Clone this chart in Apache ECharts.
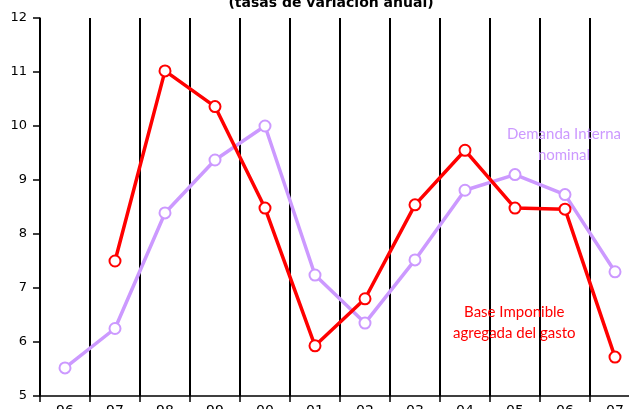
<!DOCTYPE html>
<html>
<head>
<meta charset="utf-8">
<script src="https://cdn.jsdelivr.net/npm/echarts@6/dist/echarts.min.js"></script>
<style>
  html, body { margin: 0; padding: 0; background: #fff; }
  #chart { width: 629px; height: 409px; }
</style>
</head>
<body>
<div id="chart"></div>
<script>
const years = ['96', '97', '98', '99', '00', '01', '02', '03', '04', '05', '06', '07']
// Demanda Interna nominal
const demanda = [5.52, 6.25, 8.39, 9.37, 10.0, 7.24, 6.35, 7.52, 8.81, 9.10, 8.73, 7.30]
// Base Imponible agregada del gasto
const baseImponible = [null, 7.50, 11.02, 10.36, 8.48, 5.93, 6.80, 8.54, 9.55, 8.48, 8.46, 5.72]

const chart = echarts.init(document.getElementById('chart'))

const lineSeries = (name, data, color) => ({
  name: name,
  type: 'line',
  data: data,
  animation: false,
  symbol: 'circle',
  symbolSize: 11,
  lineStyle: { color: color, width: 3.5 },
  itemStyle: { color: '#fff', borderColor: color, borderWidth: 2 },
  emphasis: { disabled: true }
})

chart.setOption({
  backgroundColor: '#fff',
  title: {
    text: '(tasas de variación anual)',
    left: 326,
    textAlign: 'center',
    top: -9,
    textStyle: { fontFamily: 'DejaVu Sans', fontWeight: 'bold', fontSize: 14, color: '#000' }
  },
  // sin ajuste automatico: la ultima categoria queda cortada como en el original
  grid: { left: 40, top: 18, width: 600, height: 378, outerBoundsMode: 'none', containLabel: false },
  xAxis: {
    type: 'category',
    data: years,
    boundaryGap: true,
    axisLine: { lineStyle: { color: '#000', width: 1.5 } },
    axisTick: { show: true, length: 6, lineStyle: { color: '#000', width: 1.5 } },
    axisLabel: { margin: 8, fontFamily: 'DejaVu Sans', fontSize: 14, color: '#000' },
    splitLine: { show: true, lineStyle: { color: '#000', width: 2 } }
  },
  yAxis: {
    type: 'value',
    min: 5,
    max: 12,
    interval: 1,
    axisLine: { show: true, lineStyle: { color: '#000', width: 1.5 } },
    axisTick: { show: true, length: 7, lineStyle: { color: '#000', width: 1.5 } },
    axisLabel: { margin: 13, fontFamily: 'DejaVu Sans', fontSize: 13, color: '#000' },
    splitLine: { show: false }
  },
  graphic: [
    {
      type: 'text',
      left: 507,
      top: 124,
      z: 100,
      style: {
        text: 'Demanda Interna\nnominal',
        fill: '#cc99ff',
        font: '15px Lato',
        textAlign: 'center',
        lineHeight: 21,
        x: 60
      }
    },
    {
      type: 'text',
      left: 453,
      top: 302,
      z: 100,
      style: {
        text: 'Base Imponible\nagregada del gasto',
        fill: '#ff0000',
        font: '15px Lato',
        textAlign: 'center',
        lineHeight: 21,
        x: 60
      }
    }
  ],
  series: [
    lineSeries('Demanda Interna nominal', demanda, '#cc99ff'),
    lineSeries('Base Imponible agregada del gasto', baseImponible, '#ff0000')
  ]
})
</script>
</body>
</html>
